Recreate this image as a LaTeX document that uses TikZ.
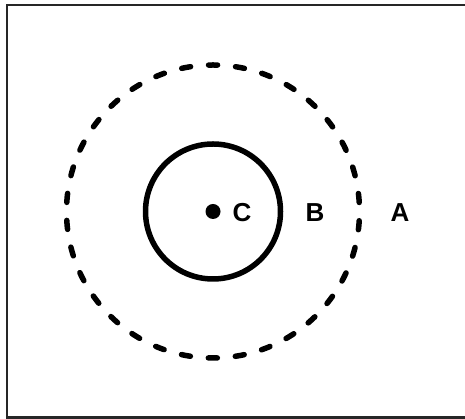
\documentclass[tikz,border=0pt]{standalone}
\usepackage{fontspec}
\setmainfont{Liberation Sans}
\begin{document}
\begin{tikzpicture}[x=1pt,y=1pt,
  frameline/.style={draw=black!85, line width=2.5pt},
  outerring/.style={draw=black, line width=5.5pt, line cap=round,
    dash pattern=on 9pt off 18.07pt, dash phase=18.04pt},
  innerring/.style={draw=black, line width=5.5pt},
  lbl/.style={font=\fontsize{26}{30}\selectfont\bfseries, inner sep=0pt, anchor=center}]
\useasboundingbox (0,0) rectangle (465,419);
\begin{scope}
\clip (0,0) rectangle (465,419);
\draw[frameline] (7,414) rectangle (468,1.5);
\end{scope}
\coordinate (ctr) at (213,207.5);
\draw[outerring] (ctr) circle[radius=146.5];
\draw[innerring] (ctr) circle[radius=67.5];
\fill (ctr) circle[radius=7.5];
\node[lbl] (C) at (242,206) {C};
\node[lbl] (B) at (315,206) {B};
\node[lbl] (A) at (400,206) {A};
\end{tikzpicture}
\end{document}
